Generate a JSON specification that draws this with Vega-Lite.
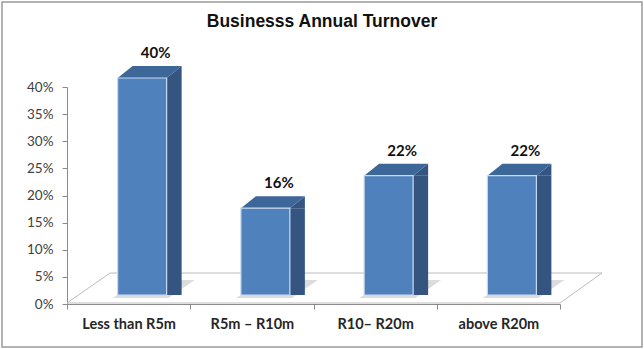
{
  "$schema": "https://vega.github.io/schema/vega-lite/v6.json",
  "width": 640,
  "height": 345,
  "padding": {"left": 2, "top": 2, "right": 2, "bottom": 2},
  "autosize": {"type": "none"},
  "background": "white",
  "title": {
    "text": "Businesss Annual Turnover",
    "font": "Liberation Sans",
    "fontSize": 17.5,
    "fontWeight": "bold",
    "color": "#111111",
    "anchor": "middle",
    "frame": "group",
    "baseline": "alphabetic",
    "offset": -42
  },
  "config": {
    "view": {"stroke": "#9a9a9a", "strokeWidth": 1.5},
    "axis": {"grid": false, "title": null}
  },
  "data": {
    "values": [
      {"cat": "Less than R5m", "value": 0.40},
      {"cat": "R5m – R10m", "value": 0.16},
      {"cat": "R10– R20m", "value": 0.22},
      {"cat": "above R20m", "value": 0.22}
    ]
  },
  "encoding": {
    "x": {
      "field": "cat",
      "type": "nominal",
      "sort": null,
      "scale": {"range": [65, 558], "paddingInner": 0, "paddingOuter": 0},
      "axis": {
        "offset": -43,
        "tickBand": "extent",
        "tickSize": 5,
        "tickColor": "#8a8a8a",
        "domainColor": "#8a8a8a",
        "labelAngle": 0,
        "labelPadding": 8,
        "labelFont": "Lato",
        "labelFontSize": 14.5,
        "labelFontWeight": "bold",
        "labelColor": "#262626"
      }
    },
    "y": {
      "field": "value",
      "type": "quantitative",
      "scale": {"domain": [0, 0.4], "range": [302, 85], "nice": false},
      "axis": {
        "offset": -65,
        "values": [0, 0.05, 0.1, 0.15, 0.2, 0.25, 0.3, 0.35, 0.4],
        "format": ".0%",
        "tickSize": 5,
        "tickColor": "#8a8a8a",
        "domainColor": "#8a8a8a",
        "labelPadding": 9,
        "labelFont": "Lato",
        "labelFontSize": 13.5,
        "labelColor": "#404040"
      }
    }
  },
  "layer": [
    {
      "description": "floor plane",
      "transform": [{"filter": "datum.cat === 'Less than R5m'"}],
      "mark": {
        "type": "point",
        "shape": "M-61.6,-1L431.4,-1L473.4,-31L-18.6,-31Z",
        "size": 4,
        "fill": "white",
        "stroke": "#bdbdbd",
        "strokeWidth": 1,
        "opacity": 1
      },
      "encoding": {"y": {"datum": 0}}
    },
    {
      "description": "soft shadow on the floor",
      "mark": {
        "type": "point",
        "shape": "M-16,-6L40,-6L66,-24L53,-24L38,-9L-11,-9Z",
        "size": 4,
        "filled": true,
        "color": "#9a9a9a",
        "opacity": 0.35,
        "strokeWidth": 0
      },
      "encoding": {"y": {"datum": 0}}
    },
    {
      "description": "side face, lower corner",
      "mark": {
        "type": "point",
        "shape": "M38,-9L38,-21L53,-21Z",
        "size": 4,
        "filled": true,
        "color": "#34557f",
        "opacity": 1,
        "strokeWidth": 0
      },
      "encoding": {"y": {"datum": 0}}
    },
    {
      "description": "side face body",
      "mark": {
        "type": "bar",
        "width": 15,
        "xOffset": 45.5,
        "yOffset": -9,
        "y2Offset": -21,
        "color": "#34557f"
      }
    },
    {
      "description": "side face, upper corner",
      "mark": {
        "type": "point",
        "shape": "M38,-9L53,-21L53,-9Z",
        "size": 4,
        "filled": true,
        "color": "#34557f",
        "opacity": 1,
        "strokeWidth": 0
      }
    },
    {
      "description": "top face",
      "mark": {
        "type": "point",
        "shape": "M-11,-9L38,-9L53,-21L4,-21Z",
        "size": 4,
        "filled": true,
        "color": "#3d6699",
        "opacity": 1,
        "strokeWidth": 0
      }
    },
    {
      "description": "front face",
      "mark": {
        "type": "bar",
        "width": 49,
        "xOffset": 13.5,
        "yOffset": -9,
        "y2Offset": -9,
        "color": "#4f81bd",
        "stroke": "#c9d9ee",
        "strokeWidth": 1.2
      }
    },
    {
      "description": "value labels",
      "mark": {
        "type": "text",
        "dx": 27,
        "dy": -29,
        "baseline": "alphabetic",
        "align": "center",
        "font": "Lato",
        "fontSize": 15,
        "fontWeight": "bold",
        "color": "#111111"
      },
      "encoding": {"text": {"field": "value", "type": "quantitative", "format": ".0%"}}
    }
  ]
}
